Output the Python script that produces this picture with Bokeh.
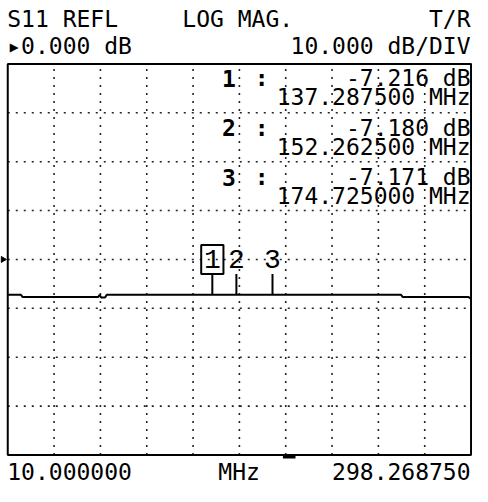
import math
from bokeh.plotting import figure
from bokeh.models import Range1d, Label
from bokeh.embed import file_html
from bokeh.resources import INLINE
from bokeh.core.properties import value

# ---------------- data ----------------
start_mhz = 10.0
stop_mhz = 298.26875
ref_db = 0.0
db_per_div = 10.0
n_xdiv = 10
n_ydiv = 8
ref_div_from_top = 4

trace_freq = [10.0, 18.1, 19.3, 66.3, 67.2, 68.1, 70.5, 71.7, 254.6, 255.8, 296.7, 298.26875]
trace_db = [-7.2, -7.2, -7.7, -7.7, -7.2, -7.8, -7.8, -7.2, -7.2, -7.7, -7.7, -8.1]

marker_names = ["1", "2", "3"]
marker_freq = [137.2875, 152.2625, 174.725]
marker_db = [-7.216, -7.180, -7.171]

header_left = "S11 REFL"
header_mid = "LOG MAG."
header_right = "T/R"
ref_text = "\u25b8" + f"{ref_db:.3f} dB"
scale_text = f"{db_per_div:.3f} dB/DIV"
start_text = f"{start_mhz:.6f}"
stop_text = f"{stop_mhz:.6f}"
unit_text = "MHz"

# ---------------- layout helpers ----------------
W, H = 472, 486
SX, SY = W / 488.0, H / 502.0


def cx(rx):  # layout x (488-wide design) -> canvas x
    return rx * SX


def cy(ry):  # layout y (502-high design) -> canvas y (from top)
    return ry * SY


FL, FR, FT, FB = cx(7.5), cx(486.5), cy(65.5), cy(471.5) - 2
top_db = ref_db + ref_div_from_top * db_per_div
bot_db = top_db - n_ydiv * db_per_div


def xd(px):
    return start_mhz + (px - FL) / (FR - FL) * (stop_mhz - start_mhz)


def yd(py):
    return top_db - (py - FT) / (FB - FT) * (top_db - bot_db)


db_per_px = (top_db - bot_db) / (FB - FT)

p = figure(width=W, height=H, output_backend="svg", toolbar_location=None,
           x_range=Range1d(xd(0), xd(W)), y_range=Range1d(yd(H), yd(0)),
           x_axis_location=None, y_axis_location=None, min_border=0)
p.grid.visible = False
p.outline_line_color = None
p.background_fill_color = "white"
p.border_fill_color = "white"

# dotted graticule
xstep = (stop_mhz - start_mhz) / n_xdiv
vx = [start_mhz + i * xstep for i in range(1, n_xdiv)]
p.segment(x0=vx, y0=[bot_db] * len(vx), x1=vx, y1=[top_db] * len(vx),
          line_color="#222222", line_width=1.6, line_dash="2 6")
hy = [bot_db + j * db_per_div for j in range(1, n_ydiv)]
p.segment(x0=[start_mhz] * len(hy), y0=hy, x1=[stop_mhz] * len(hy), y1=hy,
          line_color="#222222", line_width=1.6, line_dash="2 6")

# frame
p.quad(left=start_mhz, right=stop_mhz, bottom=bot_db, top=top_db,
       fill_color=None, line_color="black", line_width=2)

# reference-level pointer at the left edge
p.scatter(x=[xd(cx(2.5))], y=[ref_db], marker="triangle", angle=-math.pi / 2,
          size=6, fill_color="black", line_color="black")

# trace
p.line(trace_freq, trace_db, line_color="black", line_width=2)

# marker stems
stem_top = ref_db - 15 * SY * db_per_px
p.segment(x0=marker_freq, y0=marker_db, x1=marker_freq, y1=[stem_top] * 3,
          line_color="black", line_width=2)
# active marker box
p.rect(x=[marker_freq[0]], y=[ref_db], width=23 * SX, height=30 * SY,
       width_units="screen", height_units="screen",
       fill_color=None, line_color="black", line_width=2)
p.text(x=marker_freq, y=[ref_db] * 3, text=marker_names,
       text_align="center", text_baseline="middle",
       text_font=value("Liberation Mono"), text_font_size="28px",
       text_color="black")

# stimulus indicator below the frame
p.segment(x0=[xd(cx(292))], y0=[yd(FB + 2)], x1=[xd(cx(305))], y1=[yd(FB + 2)],
          line_color="black", line_width=3)

FONT = "DejaVu Sans Mono"
FS = "23px"


def lab(x, y, t, align="left", bold=False, size=FS):
    p.add_layout(Label(x=x, y=y, text=t, text_align=align,
                       text_baseline="middle", text_font=FONT,
                       text_font_size=size, text_color="black",
                       text_font_style="bold" if bold else "normal"))


# marker readouts (vertical centres of the text lines)
for i in range(3):
    m1 = cy(80.5 + 51 * i)
    m2 = cy(100.0 + 51 * i)
    lab(xd(cx(229)), yd(m1), marker_names[i], bold=True)
    lab(xd(cx(270)), yd(m1), ":", align="center", bold=True)
    lab(xd(cx(486)), yd(m1), f"{marker_db[i]:.3f} dB", align="right")
    lab(xd(cx(486)), yd(m2), f"{marker_freq[i]:.6f} MHz", align="right")

# header
lab(xd(cx(7)), yd(cy(19.2)), header_left)
lab(xd(cx(188)), yd(cy(19.2)), header_mid)
lab(xd(cx(486)), yd(cy(19.2)), header_right, align="right")
lab(xd(cx(7)), yd(cy(47.2)), ref_text)
lab(xd(cx(486)), yd(cy(47.2)), scale_text, align="right")

# footer (kept fully inside the canvas)
foot_y = H - 15
lab(xd(cx(7)), yd(foot_y), start_text)
lab(xd(cx(246.7)), yd(foot_y), unit_text, align="center")
lab(xd(cx(486)), yd(foot_y), stop_text, align="right")

open("out.html", "w").write(file_html(p, INLINE))
